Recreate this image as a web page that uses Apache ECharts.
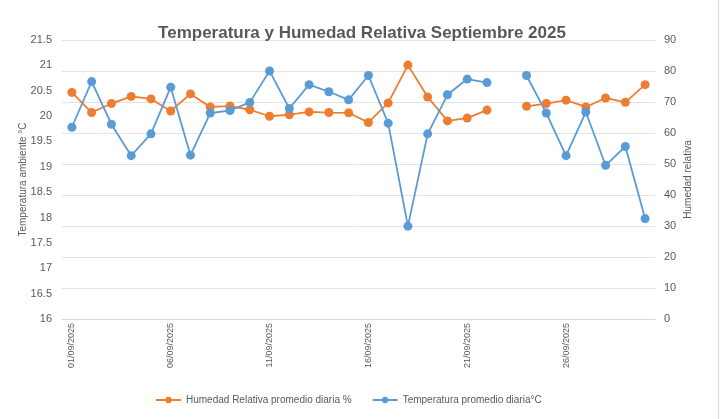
<!DOCTYPE html>
<html>
<head>
<meta charset="utf-8">
<script src="https://cdn.jsdelivr.net/npm/echarts@6/dist/echarts.min.js"></script>
<style>
html,body{margin:0;padding:0;background:#fff;}
#c{width:724px;height:419px;}
</style>
</head>
<body>
<div id="c"></div>
<script>
const categories = [
  "01/09/2025","02/09/2025","03/09/2025","04/09/2025","05/09/2025","06/09/2025","07/09/2025","08/09/2025","09/09/2025","10/09/2025",
  "11/09/2025","12/09/2025","13/09/2025","14/09/2025","15/09/2025","16/09/2025","17/09/2025","18/09/2025","19/09/2025","20/09/2025",
  "21/09/2025","22/09/2025","23/09/2025","24/09/2025","25/09/2025","26/09/2025","27/09/2025","28/09/2025","29/09/2025","30/09/2025"
];
const humedad = [
  73.1, 66.6, 69.5, 71.8, 71.0, 67.1, 72.6, 68.4, 68.7, 67.5,
  65.4, 65.9, 66.8, 66.6, 66.5, 63.4, 69.7, 81.9, 71.6, 63.9,
  64.8, 67.4, null, 68.6, 69.5, 70.6, 68.4, 71.3, 69.9, 75.6
];
const temperatura = [
  19.78, 20.68, 19.84, 19.22, 19.65, 20.57, 19.23, 20.06, 20.11, 20.27,
  20.89, 20.15, 20.62, 20.48, 20.32, 20.80, 19.86, 17.83, 19.65, 20.42,
  20.73, 20.66, null, 20.80, 20.06, 19.22, 20.08, 19.03, 19.40, 17.98
];
const seriesNames = ["Humedad Relativa promedio diaria %", "Temperatura promedio diaria°C"];
const titleText = "Temperatura y Humedad Relativa Septiembre 2025";

const FONT = "Liberation Sans";
const GRAY = "#595959";
const chart = echarts.init(document.getElementById('c'), null, {renderer: 'canvas'});
chart.setOption({
  backgroundColor: '#ffffff',
  animation: false,
  textStyle: {fontFamily: FONT},
  title: {
    text: titleText,
    left: 357,
    textAlign: 'center',
    top: 20,
    textStyle: {fontFamily: FONT, fontSize: 17, fontWeight: 'bold', color: GRAY}
  },
  legend: {
    bottom: 9,
    left: 150,
    itemGap: 20,
    itemWidth: 25,
    itemHeight: 8,
    textStyle: {fontFamily: FONT, fontSize: 10, color: GRAY},
    data: seriesNames
  },
  grid: {left: 62, right: 69, top: 40, bottom: 100, containLabel: false},
  xAxis: {
    type: 'category',
    data: categories,
    boundaryGap: true,
    axisLine: {show: true, lineStyle: {color: '#d9d9d9'}},
    axisTick: {show: false},
    axisLabel: {interval: 4, rotate: 90, fontSize: 9, color: GRAY, fontFamily: FONT, margin: 4}
  },
  yAxis: [
    {
      type: 'value',
      min: 16, max: 21.5, interval: 0.5,
      name: 'Temperatura ambiente °C',
      nameLocation: 'middle',
      nameGap: 34,
      nameMoveOverlap: false,
      nameTextStyle: {fontSize: 10, color: GRAY, fontFamily: FONT},
      axisLine: {show: false},
      axisTick: {show: false},
      splitLine: {show: false},
      axisLabel: {fontSize: 11, color: GRAY, fontFamily: FONT, margin: 10}
    },
    {
      type: 'value',
      min: 0, max: 90, interval: 10,
      name: 'Humedad relativa',
      nameLocation: 'middle',
      nameGap: 28,
      nameMoveOverlap: false,
      nameRotate: 90,
      nameTextStyle: {fontSize: 10, color: GRAY, fontFamily: FONT},
      axisLine: {show: false},
      axisTick: {show: false},
      splitLine: {show: true, lineStyle: {color: '#e3e3e3', width: 1}},
      axisLabel: {fontSize: 11, color: GRAY, fontFamily: FONT, margin: 9}
    }
  ],
  series: [
    {
      name: seriesNames[0],
      type: 'line',
      yAxisIndex: 1,
      data: humedad,
      symbol: 'circle',
      symbolSize: 9,
      connectNulls: false,
      itemStyle: {color: '#ED7D31'},
      lineStyle: {color: '#ED7D31', width: 1.8}
    },
    {
      name: seriesNames[1],
      type: 'line',
      yAxisIndex: 0,
      data: temperatura,
      symbol: 'circle',
      symbolSize: 9,
      connectNulls: false,
      itemStyle: {color: '#5B9BD5'},
      lineStyle: {color: '#5B9BD5', width: 1.8}
    }
  ],
  graphic: [
    {type: 'line', shape: {x1: 718.5, y1: 0, x2: 718.5, y2: 419}, style: {stroke: '#d9d9d9', lineWidth: 1}}
  ]
});
</script>
</body>
</html>
